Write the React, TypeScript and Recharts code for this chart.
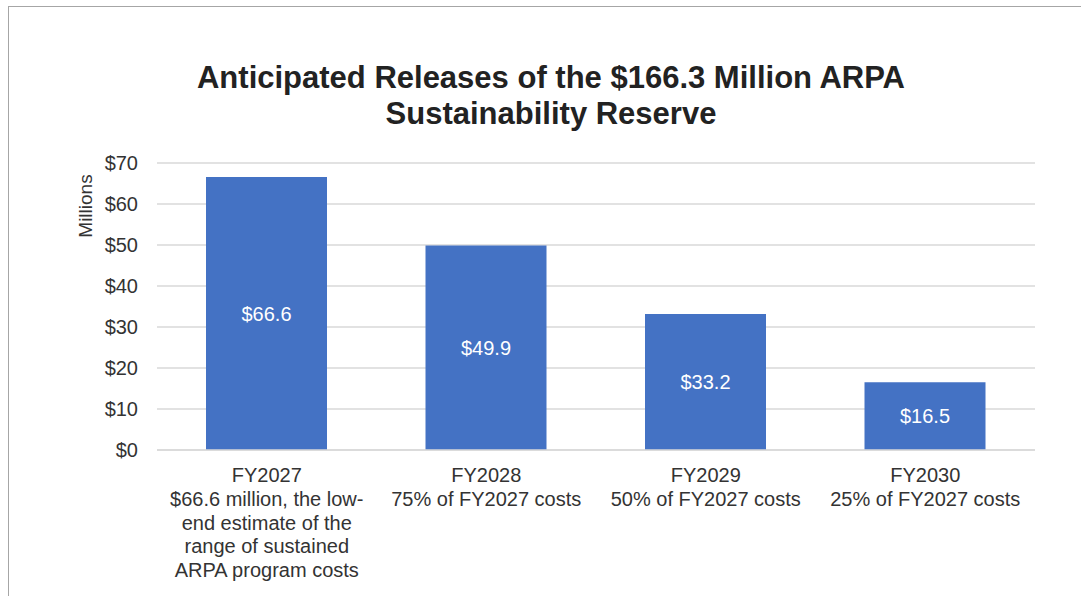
import { Bar, BarChart, CartesianGrid, LabelList, XAxis, YAxis } from "recharts";

const categories = ["FY2027", "FY2028", "FY2029", "FY2030"];
const descriptions = [
  ["$66.6 million, the low-", "end estimate of the", "range of sustained", "ARPA program costs"],
  ["75% of FY2027 costs"],
  ["50% of FY2027 costs"],
  ["25% of FY2027 costs"],
];
const releases = [66.6, 49.9, 33.2, 16.5];
const yTicks = [0, 10, 20, 30, 40, 50, 60, 70];

const data = categories.map((name, i) => ({ name, value: releases[i], lines: descriptions[i] }));

const FONT = '"Liberation Sans", Arial, sans-serif';

const CategoryTick = (props: any) => {
  const { x, y, payload, index } = props;
  const lines = [payload.value, ...(descriptions[index] ?? [])];
  return (
    <text x={x} y={y + 32} textAnchor="middle" fill="#333333" fontSize={20} fontFamily={FONT}>
      {lines.map((line, i) => (
        <tspan key={i} x={x} dy={i === 0 ? 0 : 23.8}>
          {line}
        </tspan>
      ))}
    </text>
  );
};

export default function App() {
  return (
    <div style={{ position: "absolute", left: 0, top: 0, width: 1081, height: 596, overflow: "hidden", background: "#fff", fontFamily: FONT }}>
      <div
        style={{
          position: "absolute",
          left: 8,
          top: 6,
          width: 1100,
          height: 640,
          border: "1px solid #a6a6a6",
          boxSizing: "border-box",
        }}
      />
      <div
        style={{
          position: "absolute",
          left: 0,
          width: 1102,
          top: 60,
          textAlign: "center",
          fontSize: 31,
          fontWeight: "bold",
          lineHeight: "36px",
          color: "#222222",
        }}
      >
        Anticipated Releases of the $166.3 Million ARPA
        <br />
        Sustainability Reserve
      </div>
      <div
        style={{
          position: "absolute",
          left: 86,
          top: 206,
          transform: "translate(-50%, -50%) rotate(-90deg)",
          fontSize: 19,
          color: "#333333",
          whiteSpace: "nowrap",
        }}
      >
        Millions
      </div>
      <div style={{ position: "absolute", left: 0, top: 0 }}>
        <BarChart width={1081} height={596} data={data} margin={{ top: 163, right: 46, bottom: 0, left: 60 }}>
          <CartesianGrid vertical={false} stroke="#d9d9d9" strokeWidth={1.3} />
          <XAxis
            dataKey="name"
            height={146}
            tickLine={false}
            axisLine={{ stroke: "#d9d9d9", strokeWidth: 1.3 }}
            tickSize={0}
            tickMargin={0}
            interval={0}
            tick={<CategoryTick />}
          />
          <YAxis
            width={97}
            domain={[0, 70]}
            ticks={yTicks}
            axisLine={false}
            tickLine={false}
            tickSize={0}
            tickMargin={19}
            tick={{ fill: "#333333", fontSize: 20, fontFamily: FONT }}
            tickFormatter={(v: number) => `$${v}`}
          />
          <Bar dataKey="value" fill="#4472c4" barSize={121} isAnimationActive={false}>
            <LabelList
              dataKey="value"
              position="center"
              fill="#ffffff"
              fontSize={20}
              fontFamily={FONT}
              formatter={(v: any) => `$${Number(v).toFixed(1)}`}
            />
          </Bar>
        </BarChart>
      </div>
    </div>
  );
}
